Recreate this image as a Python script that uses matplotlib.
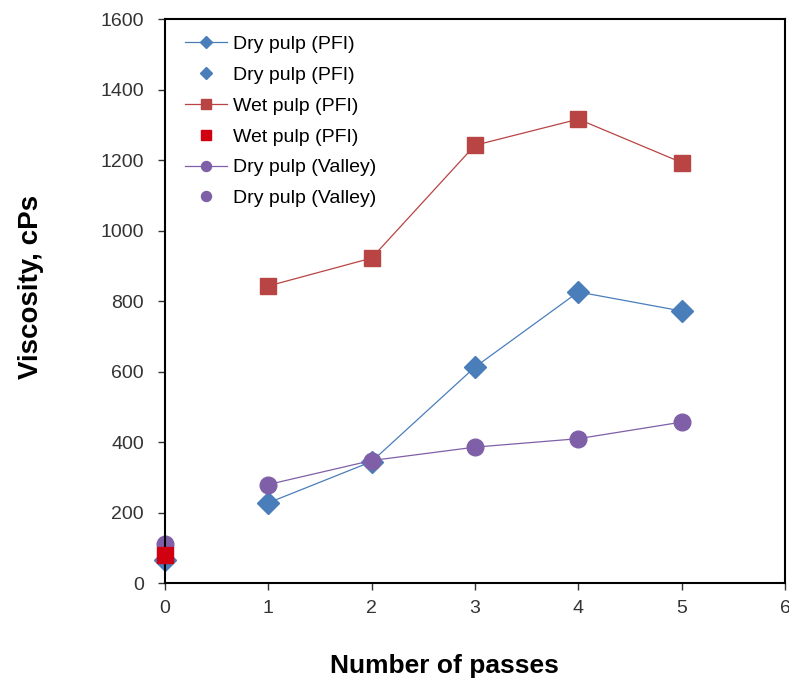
import numpy as np
import matplotlib
matplotlib.use('Agg')
import matplotlib.pyplot as plt

plt.rcParams['font.family'] = ['Liberation Sans', 'DejaVu Sans']

passes = [1, 2, 3, 4, 5]
dry_pfi = [228, 345, 613, 826, 772]
wet_pfi = [843, 922, 1242, 1316, 1193]
dry_valley = [280, 348, 386, 410, 457]

# untreated pulp (0 passes)
zero = [0]
dry_pfi_0 = [65]
wet_pfi_0 = [80]
dry_valley_0 = [110]

blue = '#4a7ebb'
red = '#b94444'
purple = '#7f60a8'

fig = plt.figure(figsize=(7.89, 6.79), dpi=100)
ax = fig.add_axes([0.209, 0.141, 0.786, 0.831])

ax.plot(passes, dry_pfi, color=blue, lw=0.9, marker='D', ms=11, mec=blue, label='Dry pulp (PFI)')
ax.plot(zero, dry_pfi_0, ls='none', color=blue, marker='D', ms=11, clip_on=False, label='Dry pulp (PFI)')
ax.plot(passes, wet_pfi, color=red, lw=0.9, marker='s', ms=12, mec=red, label='Wet pulp (PFI)')
ax.plot(zero, wet_pfi_0, ls='none', color='#d00010', marker='s', ms=11, clip_on=False,
        zorder=4, label='Wet pulp (PFI)')
ax.plot(passes, dry_valley, color=purple, lw=0.9, marker='o', ms=12, mec=purple, label='Dry pulp (Valley)')
ax.plot(zero, dry_valley_0, ls='none', color=purple, marker='o', ms=12, clip_on=False, label='Dry pulp (Valley)')

ax.set_xlim(0, 6)
ax.set_ylim(0, 1600)
ax.set_xticks(range(0, 7))
ax.set_yticks(range(0, 1601, 200))
ax.tick_params(direction='out', length=5, width=1, labelsize=14, colors='#333333')
ax.tick_params(axis='y', pad=10)
ax.tick_params(axis='x', pad=7)
for s in ax.spines.values():
    s.set_linewidth(1.5)

ax.set_xlabel('Number of passes', fontsize=19, fontweight='bold')
ax.set_ylabel('Viscosity, cPs', fontsize=20, fontweight='bold')
ax.xaxis.set_label_coords(0.45, -0.125)
ax.yaxis.set_label_coords(-0.195, 0.525)

leg = ax.legend(loc='upper left', frameon=False, fontsize=14, handlelength=2.15,
                labelspacing=0.68, borderaxespad=0.3, handletextpad=0.35, markerscale=0.6,
                bbox_to_anchor=(0.01, 0.995))

plt.savefig('out.png', dpi=100)
